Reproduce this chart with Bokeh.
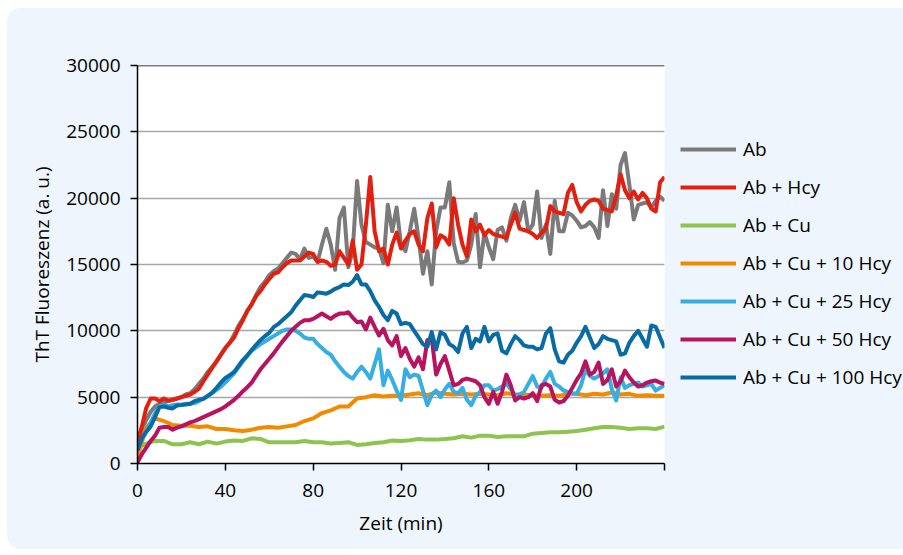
from bokeh.plotting import figure
from bokeh.layouts import row
from bokeh.models import Legend, LegendItem, Span, FixedTicker, Range1d
from bokeh.embed import file_html
from bokeh.resources import INLINE

# ---- data ----
time_2min = list(range(0, 241, 2))
time_4min = list(range(0, 241, 4))

ab = [1500, 2500, 3300, 3900, 4300, 4500, 4600, 4700, 4800, 4900,
      5000, 5200, 5300, 5600, 6000, 6400, 6900, 7300, 7700, 8200,
      8700, 9100, 9700, 10400, 10900, 11500, 12000, 12700, 13300, 13700,
      14200, 14500, 14700, 15100, 15500, 15900, 15800, 15400, 16200, 15500,
      15600, 15200, 16500, 17700, 16500, 14600, 18500, 19300, 14800, 16000,
      21300, 18000, 16700, 16500, 16300, 16200, 15100, 19500, 17500, 19300,
      16500, 16000, 17500, 19200, 17000, 14300, 16000, 13500, 17500, 19300,
      19300, 21200, 16600, 15200, 15150, 15300, 16500, 18800, 14800, 17400,
      16300, 15400, 17600, 17800, 16800, 18500, 19500, 18300, 19700, 17500,
      18000, 20500, 17000, 18000, 15800, 19800, 17500, 17500, 18900, 18700,
      18300, 17800, 17900, 18200, 17800, 17000, 20600, 17900, 20300, 19200,
      22500, 23400, 21000, 18400, 19500, 19600, 19700, 19300, 19800, 20100,
      19800]

ab_hcy = [1700, 2800, 4200, 4900, 4900, 4700, 4900, 4750, 4800, 4900,
          5000, 5100, 5200, 5400, 5650, 6200, 6700, 7200, 7700, 8200,
          8700, 9100, 9500, 10200, 10800, 11500, 12000, 12600, 13000, 13500,
          13900, 14300, 14400, 14800, 15100, 15300, 15300, 15300, 15600, 15900,
          15800, 15200, 15300, 15200, 14900, 15000, 16000, 15500, 15000, 16800,
          14600, 15000, 18000, 21600, 17500, 16000, 16200, 15000, 16500, 17400,
          16200, 16800, 17300, 17500, 16500, 16000, 18500, 19600, 16300, 17200,
          17000, 16500, 20000, 18000, 16500, 15600, 18400, 17500, 18000, 17200,
          17600, 17300, 17200, 17100, 17000, 18000, 18900, 17700, 17600, 17500,
          17300, 17000, 17400, 17700, 19400, 19000, 18900, 18800, 20400, 21000,
          19700, 19000, 19500, 19800, 19900, 19800, 19200, 19100, 19000, 20200,
          21800, 20600, 20000, 20500, 19900, 20400, 20000, 19200, 19000, 21200,
          21600]

ab_cu = [1200, 1500, 1700, 1700, 1450, 1450, 1600, 1450, 1650, 1500,
         1650, 1730, 1700, 1900, 1850, 1600, 1600, 1600, 1600, 1700,
         1600, 1600, 1500, 1550, 1600, 1400, 1450, 1550, 1600, 1730,
         1700, 1750, 1850, 1800, 1800, 1850, 1900, 2050, 1950, 2100,
         2100, 2000, 2050, 2050, 2050, 2250, 2300, 2350, 2350, 2400,
         2450, 2550, 2650, 2750, 2750, 2700, 2600, 2650, 2650, 2600,
         2780]

ab_cu_10 = [500, 2700, 3400, 3200, 2900, 2850, 2850, 2750, 2800, 2600,
            2600, 2500, 2450, 2550, 2700, 2750, 2700, 2800, 2900, 3200,
            3400, 3800, 4000, 4300, 4300, 4900, 5000, 5150, 5050, 5100,
            5100, 5200, 5300, 5150, 5350, 5250, 5200, 5250, 5200, 5250,
            5200, 5150, 5300, 5200, 5200, 5150, 5100, 5150, 5100, 5250,
            5250, 5150, 5250, 5200, 5350, 5200, 5250, 5100, 5150, 5100,
            5100]

ab_cu_25 = [1200, 1800, 2400, 3100, 3800, 4300, 4400, 4300, 4400, 4450,
            4450, 4500, 4500, 4550, 4700, 4900, 5100, 5300, 5550, 5800,
            6100, 6450, 6800, 7250, 7700, 8100, 8500, 8750, 9000, 9200,
            9400, 9600, 9800, 10000, 10100, 10100, 10000, 9800, 9500, 9400,
            9400, 9000, 8700, 8400, 8200, 7700, 7300, 6900, 6600, 6400,
            6900, 7300, 6900, 6400, 7500, 8600, 5900, 7000, 6300, 5500,
            4800, 7100, 6500, 6700, 6600, 5500, 4400, 5200, 5500, 5000,
            5600, 6000, 5400, 5300, 5700, 4800, 4400, 5100, 5400, 5900,
            5900, 5500, 5600, 5800, 6000, 5600, 5100, 5200, 5400, 6000,
            6600, 5800, 5700, 6400, 6900, 6000, 5800, 5500, 5400, 5300,
            5250, 5900, 7100, 6600, 6400, 6600, 6800, 7100, 5600, 4750,
            6500, 5700, 5900, 6000, 6100, 5800, 5900, 6000, 5500, 5700,
            5900]

ab_cu_50 = [100, 700, 1200, 1700, 2100, 2700, 2750, 2750, 2550, 2700,
            2800, 2950, 3100, 3200, 3350, 3500, 3650, 3800, 3950, 4100,
            4300, 4550, 4800, 5100, 5450, 5750, 6100, 6600, 7100, 7500,
            7900, 8300, 8750, 9200, 9600, 10000, 10300, 10600, 10800, 10800,
            10900, 11100, 11300, 11100, 10900, 11150, 11300, 11300, 11400, 11000,
            10650, 10700, 10100, 11000, 10300, 9650, 10150, 9300, 8900, 9600,
            8100, 8700, 7900, 7300, 8000, 7100, 9300, 9400, 6700, 7500,
            8100, 7000, 5900, 6000, 6300, 6400, 6300, 6200, 5900, 5000,
            4500, 5400, 4500, 5400, 6700, 5900, 4750, 5000, 4900, 5000,
            5300, 4700, 5900, 6000, 5800, 4800, 4600, 4700, 5100, 5700,
            6300, 6800, 7700, 6700, 6900, 7600, 6000, 6300, 7100, 5800,
            6200, 7000, 6500, 6100, 5800, 5900, 6100, 6200, 6250, 6100,
            6000]

ab_cu_100 = [1000, 1900, 2400, 2800, 3500, 4250, 4300, 4200, 4150, 4370,
             4400, 4450, 4500, 4700, 4800, 4870, 5100, 5350, 5700, 6100,
             6450, 6650, 6900, 7350, 7800, 8150, 8550, 8950, 9300, 9600,
             9850, 10280, 10500, 10800, 11100, 11400, 11900, 12300, 12700, 12650,
             12550, 12900, 12850, 12800, 12950, 13170, 13300, 13500, 13450, 13700,
             14200, 13500, 13500, 13000, 12300, 11800, 11200, 10800, 11500, 11300,
             10500, 10600, 10500, 10000, 9500, 9000, 8800, 9900, 8600, 9900,
             9700, 9000, 8800, 8400, 9800, 10300, 8700, 9400, 9200, 10300,
             9200, 9700, 9800, 8500, 8300, 9000, 9600, 9300, 8900, 8800,
             8800, 8600, 8700, 9800, 10200, 8600, 7700, 7600, 8200, 8500,
             9100, 9600, 10300, 9500, 8700, 9000, 9600, 9400, 9300, 9200,
             8200, 8300, 9100, 9600, 10000, 9400, 8800, 10400, 10300, 9500,
             8700]

series_names = ["Ab", "Ab + Hcy", "Ab + Cu", "Ab + Cu + 10 Hcy",
                "Ab + Cu + 25 Hcy", "Ab + Cu + 50 Hcy", "Ab + Cu + 100 Hcy"]
series_x = [time_2min, time_2min, time_4min, time_4min, time_2min, time_2min, time_2min]
series_y = [ab, ab_hcy, ab_cu, ab_cu_10, ab_cu_25, ab_cu_50, ab_cu_100]
series_colors = ["#7a7a7a", "#e3200f", "#8fc350", "#f28a00", "#36ade3", "#b7135e", "#096ba5"]

x_ticks = [0, 40, 80, 120, 160, 200, 240]
y_ticks = [0, 5000, 10000, 15000, 20000, 25000, 30000]
grid_levels = [5000, 10000, 15000, 20000, 25000]

FONT = "Open Sans"
FS = "19px"
PANEL = "#eef5fc"

# ---- main chart ----
p = figure(width=667, height=541, x_range=(0, 240), y_range=(0, 30000),
           output_backend="svg", toolbar_location=None,
           min_border_left=130, min_border_right=10,
           min_border_top=57, min_border_bottom=86)
p.border_fill_color = PANEL
p.background_fill_color = "white"
p.outline_line_color = None

p.xgrid.visible = False
p.ygrid.ticker = FixedTicker(ticks=grid_levels)
p.ygrid.grid_line_color = "#a6a6a6"
p.ygrid.grid_line_width = 1.5

for ax in (p.xaxis[0], p.yaxis[0]):
    ax.axis_line_color = "black"
    ax.axis_line_width = 1.5
    ax.major_tick_line_color = "black"
    ax.major_tick_line_width = 1.5
    ax.major_tick_in = 0
    ax.major_tick_out = 7
    ax.minor_tick_line_color = None
    ax.major_label_text_font = FONT
    ax.major_label_text_font_size = FS
    ax.major_label_text_color = "black"
    ax.axis_label_text_font = FONT
    ax.axis_label_text_font_size = FS
    ax.axis_label_text_font_style = "normal"
    ax.axis_label_text_color = "black"
    ax.major_label_standoff = 10

p.xaxis.ticker = FixedTicker(ticks=x_ticks)
p.xaxis.major_label_overrides = {240: ""}
p.xaxis.major_label_standoff = 13
p.yaxis.ticker = FixedTicker(ticks=y_ticks)
p.yaxis.formatter.use_scientific = False
p.xaxis.axis_label = "Zeit (min)"
p.yaxis.axis_label = "ThT Fluoreszenz (a. u.)"
p.xaxis.axis_label_standoff = 10
p.yaxis.axis_label_standoff = 8

p.add_layout(Span(location=30000, dimension="width", line_color="black", line_width=1.5))

for xs, ys, col in zip(series_x, series_y, series_colors):
    p.line(xs, ys, line_color=col, line_width=4, line_join="round")

# ---- legend panel (its own lines lie outside its visible range) ----
pl = figure(width=229, height=541, output_backend="svg", toolbar_location=None,
            x_axis_type=None, y_axis_type=None,
            x_range=Range1d(-1000, -900), y_range=Range1d(-1000, -900),
            min_border_left=0, min_border_right=0, min_border_top=0, min_border_bottom=0)
pl.border_fill_color = PANEL
pl.background_fill_color = PANEL
pl.outline_line_color = None
pl.xgrid.visible = False
pl.ygrid.visible = False

items = []
for name, xs, ys, col in zip(series_names, series_x, series_y, series_colors):
    r = pl.line(xs, ys, line_color=col, line_width=4)
    items.append(LegendItem(label=name, renderers=[r]))

legend = Legend(items=items, location=(6, 73))
legend.padding = 0
legend.margin = 0
legend.border_line_color = None
legend.background_fill_alpha = 0
legend.glyph_width = 56
legend.glyph_height = 20
legend.label_height = 20
legend.spacing = 12
legend.label_standoff = 7
legend.label_text_font = FONT
legend.label_text_font_size = FS
legend.label_text_color = "black"
pl.add_layout(legend, "center")

lay = row(p, pl, margin=(8, 0, 6, 7))
lay.styles = {"border-radius": "14px 0 0 14px", "overflow": "hidden",
              "background-color": PANEL}

open("out.html", "w").write(file_html(lay, INLINE))
